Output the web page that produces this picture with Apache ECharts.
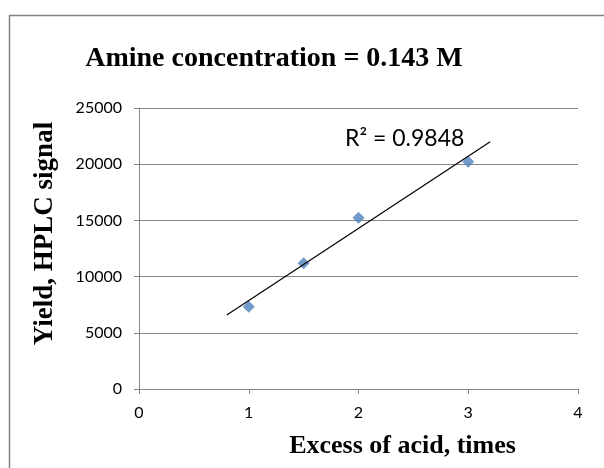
<!DOCTYPE html>
<html>
<head>
<meta charset="utf-8">
<script src="https://cdn.jsdelivr.net/npm/echarts@6/dist/echarts.min.js"></script>
<style>
html,body{margin:0;padding:0;background:#fff;}
#chart{width:604px;height:468px;}
</style>
</head>
<body>
<div id="chart"></div>
<script>
var titleText = 'Amine concentration = 0.143 M';
var xAxisName = 'Excess of acid, times';
var yAxisName = 'Yield, HPLC signal';
var xValues = [1, 1.5, 2, 3];
var yValues = [7320, 11180, 15240, 20220];
var trendRange = [0.8, 3.2];
var r2Text = 'R² = 0.9848';

// least-squares trendline from data
var n = xValues.length, mx = 0, my = 0;
for (var i = 0; i < n; i++) { mx += xValues[i]; my += yValues[i]; }
mx /= n; my /= n;
var sxx = 0, sxy = 0;
for (var i = 0; i < n; i++) { sxx += (xValues[i]-mx)*(xValues[i]-mx); sxy += (xValues[i]-mx)*(yValues[i]-my); }
var slope = sxy / sxx, icpt = my - slope * mx;
var trendData = trendRange.map(function (x) { return [x, icpt + slope * x]; });
var pts = xValues.map(function (x, i) { return [x, yValues[i]]; });

var chart = echarts.init(document.getElementById('chart'), null, {renderer: 'canvas'});
var serif = '"Liberation Serif", "DejaVu Serif", serif';
var sans = 'Lato, "Open Sans", sans-serif';
chart.setOption({
  animation: false,
  backgroundColor: '#fff',
  title: {
    text: titleText, left: 269, top: 40, textAlign: 'center',
    textStyle: {fontFamily: serif, fontWeight: 'bold', fontSize: 28, color: '#000'}
  },
  grid: {left: 139, right: 26, top: 108, bottom: 79},
  xAxis: {
    type: 'value', min: 0, max: 4, interval: 1,
    name: xAxisName, nameLocation: 'middle', nameGap: 44,
    nameTextStyle: {fontFamily: serif, fontWeight: 'bold', fontSize: 26, color: '#000', padding: [0, 0, 0, 88]},
    axisLine: {show: true, lineStyle: {color: '#868686'}},
    axisTick: {show: true, length: 5, inside: false, lineStyle: {color: '#868686'}},
    axisLabel: {fontFamily: sans, fontSize: 16, color: '#000', margin: 16},
    splitLine: {show: false}
  },
  yAxis: {
    type: 'value', min: 0, max: 25000, interval: 5000,
    name: yAxisName, nameLocation: 'middle', nameGap: 80, nameRotate: 90,
    nameTextStyle: {fontFamily: serif, fontWeight: 'bold', fontSize: 27, color: '#000', padding: [0, 0, 0, 30]},
    axisLine: {show: true, lineStyle: {color: '#868686'}},
    axisTick: {show: true, length: 5, lineStyle: {color: '#868686'}},
    axisLabel: {fontFamily: sans, fontSize: 16, color: '#000', margin: 17,
      formatter: function (v) { return String(v); }},
    splitLine: {show: true, lineStyle: {color: '#868686', width: 1}}
  },
  graphic: [
    {type: 'rect', left: 7, top: 13, z: -1, shape: {width: 640, height: 500},
     style: {fill: 'none', stroke: '#808080', lineWidth: 1.5}},
    {type: 'text', left: 345, top: 127,
     style: {text: r2Text, fontFamily: sans, fontSize: 23, fill: '#000'}}
  ],
  series: [
    {type: 'line', data: trendData, symbol: 'none', lineStyle: {color: '#000', width: 1.2}, z: 3},
    {type: 'scatter', data: pts, symbol: 'diamond', symbolSize: 12, itemStyle: {color: '#4F81BD'}, z: 2}
  ]
});
</script>
</body>
</html>
